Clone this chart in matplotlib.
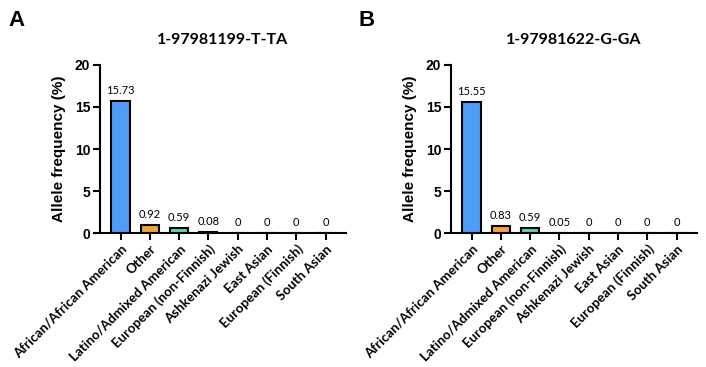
import matplotlib
matplotlib.use('Agg')
import matplotlib.pyplot as plt
import numpy as np

categories = ["African/African American", "Other", "Latino/Admixed American",
              "European (non-Finnish)", "Ashkenazi Jewish", "East Asian",
              "European (Finnish)", "South Asian"]
freq_a = [15.73, 0.92, 0.59, 0.08, 0, 0, 0, 0]
freq_b = [15.55, 0.83, 0.59, 0.05, 0, 0, 0, 0]
labels_a = ["15.73", "0.92", "0.59", "0.08", "0", "0", "0", "0"]
labels_b = ["15.55", "0.83", "0.59", "0.05", "0", "0", "0", "0"]
titles = ["1-97981199-T-TA", "1-97981622-G-GA"]
panels = ["A", "B"]
colors = ["#4f9cf7", "#f4a041", "#5cd8a6", "#ffffff", "#ffffff", "#ffffff", "#ffffff", "#ffffff"]

fig = plt.figure(figsize=(7.06, 3.67), dpi=100)

lefts = [100 / 706, 451 / 706]
for i in range(2):
    ax = fig.add_axes([lefts[i], 0.365, 246 / 706, 0.458])
    vals = [freq_a, freq_b][i]
    labs = [labels_a, labels_b][i]
    x = np.arange(len(categories))
    ax.bar(x, vals, width=0.62, color=colors, edgecolor="black", linewidth=1.5, zorder=3)
    for xi, v, t in zip(x, vals, labs):
        ax.text(xi, v + 0.6, t, ha="center", va="bottom", fontsize=8, family="Lato")
    ax.set_xlim(-0.7, 7.7)
    ax.set_ylim(0, 20)
    ax.set_yticks([0, 5, 10, 15, 20])
    ax.set_xticks(x)
    ax.set_xticklabels(categories, rotation=45, ha="right", rotation_mode="anchor",
                       fontsize=9.6, fontweight="bold", family="Lato")
    for t in ax.get_yticklabels():
        t.set_fontweight("bold")
        t.set_family("Liberation Sans")
        t.set_fontsize(10)
    ax.spines["top"].set_visible(False)
    ax.spines["right"].set_visible(False)
    ax.spines["left"].set_linewidth(1.5)
    ax.spines["bottom"].set_linewidth(1.5)
    ax.tick_params(width=1.5, length=5, pad=2)
    ax.set_ylabel("Allele frequency (%)", fontsize=11, fontweight="bold",
                  family="Liberation Sans", labelpad=6)
    ax.set_title(titles[i], fontsize=11.5, fontweight="bold", family="Lato", pad=15)
    fig.text(lefts[i] - 92 / 706, 0.945, panels[i], fontsize=16, fontweight="bold",
             family="Liberation Sans", va="center")

fig.savefig("out.png", dpi=100)
